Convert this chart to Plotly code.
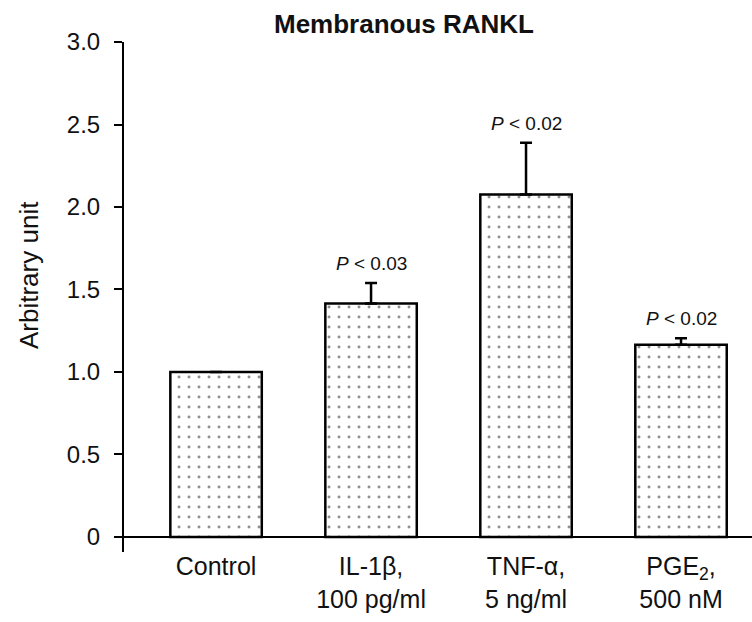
import plotly.graph_objects as go

categories = ["Control", "IL-1β", "TNF-α", "PGE2"]
tick_labels = ["Control", "IL-1β,<br>100 pg/ml", "TNF-α,<br>5 ng/ml", "PGE<sub>2</sub>,<br>500 nM"]
values = [1.0, 1.415, 2.075, 1.165]
errors_up = [0.0, 0.125, 0.315, 0.04]
p_labels = ["", "<i>P</i> < 0.03", "<i>P</i> < 0.02", "<i>P</i> < 0.02"]
y_ticks = [0, 0.5, 1.0, 1.5, 2.0, 2.5, 3.0]
y_tick_text = ["0", "0.5", "1.0", "1.5", "2.0", "2.5", "3.0"]
y_title = "Arbitrary unit"

FONT = "Liberation Sans, Arial, Helvetica, sans-serif"
xs = list(range(len(categories)))

fig = go.Figure()
fig.add_trace(go.Bar(
    x=xs, y=values, width=0.59,
    marker=dict(
        color="white",
        line=dict(color="black", width=2.5),
        pattern=dict(shape=".", fgcolor="#222", bgcolor="white", size=10, solidity=0.07),
    ),
    error_y=dict(type="data", array=errors_up, arrayminus=[0] * len(values), symmetric=False,
                 color="black", thickness=2.5, width=6),
    showlegend=False,
))

for x, v, e, t in zip(xs, values, errors_up, p_labels):
    if t:
        fig.add_annotation(x=x, y=v + e, xref="x", yref="y", text=t, showarrow=False,
                           yanchor="bottom", yshift=7, font=dict(family=FONT, size=19, color="#111"))

# y-axis title placed beside the axis
fig.add_annotation(x=(29 - 124) / 628, y=(552 - 275) / 510, xref="paper", yref="paper",
                   text=y_title, textangle=-90, showarrow=False, xanchor="center", yanchor="middle",
                   font=dict(family=FONT, size=26, color="#111"))

fig.update_layout(
    width=752, height=622,
    margin=dict(l=124, r=0, t=42, b=70),
    paper_bgcolor="white", plot_bgcolor="white",
    title=dict(text="<b>Membranous RANKL</b>", x=404 / 752, xanchor="center", xref="container",
               y=1 - 24 / 622, yanchor="middle", yref="container",
               font=dict(family=FONT, size=26, color="#111")),
    font=dict(family=FONT, color="#111"),
    xaxis=dict(range=[-0.594, 3.458], tickvals=xs, ticktext=tick_labels, showline=False,
               ticks="", showgrid=False, zeroline=False, ticklabelstandoff=-3,
               tickfont=dict(size=25, color="#111")),
    yaxis=dict(range=[-0.091, 3.0], tickvals=y_ticks, ticktext=y_tick_text, showline=True,
               linecolor="black", linewidth=2, ticks="outside", ticklen=8, tickwidth=2,
               tickcolor="black", showgrid=False, zeroline=True, zerolinecolor="black",
               zerolinewidth=2, tickfont=dict(size=24, color="#111"), ticklabelstandoff=9),
)

fig.write_html("out.html")
